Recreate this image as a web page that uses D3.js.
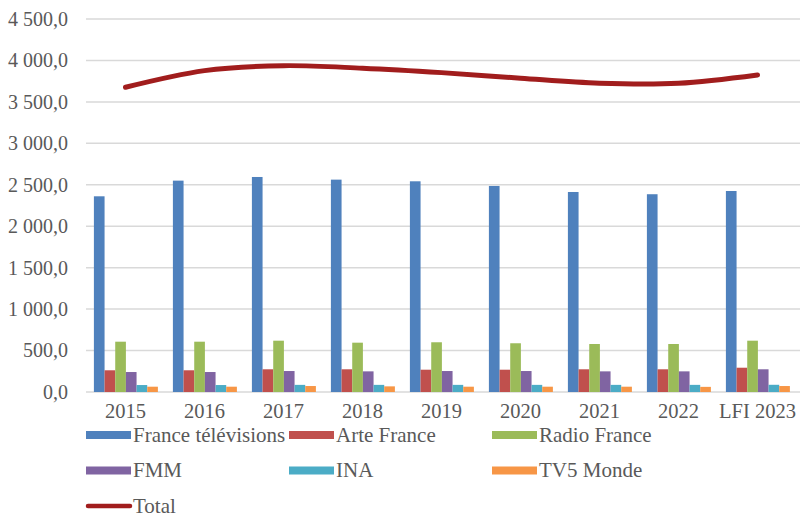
<!DOCTYPE html>
<html>
<head>
<meta charset="utf-8">
<script src="https://cdn.jsdelivr.net/npm/d3@7"></script>
<style>
  body { margin: 0; background: #fff; }
</style>
</head>
<body>
<svg id="chart"></svg>
<script>
const years = ["2015", "2016", "2017", "2018", "2019", "2020", "2021", "2022", "LFI 2023"];
const series = ["France télévisions", "Arte France", "Radio France", "FMM", "INA", "TV5 Monde"];

const franceTv    = [2361, 2550, 2594, 2562, 2542, 2486, 2413, 2386, 2425];
const arteFrance  = [262, 262, 274, 274, 269, 269, 274, 274, 293];
const radioFrance = [607, 607, 619, 595, 600, 588, 579, 579, 619];
const fmm         = [241, 241, 253, 249, 253, 253, 249, 249, 274];
const ina         = [84, 84, 86, 86, 86, 86, 86, 86, 87];
const tv5Monde    = [64, 64, 72, 68, 64, 64, 64, 62, 72];
const total       = [3676, 3877, 3937, 3906, 3853, 3785, 3725, 3725, 3825];

const yTicks = [0, 500, 1000, 1500, 2000, 2500, 3000, 3500, 4000, 4500];
const colors = ["#4F81BD", "#C0504D", "#9BBB59", "#8064A2", "#4BACC6", "#F79646"];
const totalColor = "#A11D1D";

const seriesValues = [franceTv, arteFrance, radioFrance, fmm, ina, tv5Monde];

const width = 802;
const height = 517;
const margin = { left: 86, right: 5, top: 19, bottom: 125 };
const serif = '"Liberation Serif", "Times New Roman", serif';

const svg = d3.select("#chart")
    .attr("width", width)
    .attr("height", height)
    .attr("font-family", serif);

const x0 = d3.scaleBand()
    .domain(years)
    .range([margin.left, 797]);

const x1 = d3.scaleBand()
    .domain(series)
    .range([x0.bandwidth() * 0.1, x0.bandwidth() * 0.91]);

const y = d3.scaleLinear()
    .domain([0, 4500])
    .range([392, margin.top]);

// gridlines
svg.append("g")
    .selectAll("line")
    .data(yTicks)
    .enter()
    .append("line")
    .attr("x1", margin.left)
    .attr("x2", 800)
    .attr("y1", d => y(d))
    .attr("y2", d => y(d))
    .attr("stroke", "#D9D9D9")
    .attr("stroke-width", 1.5);

// y axis labels
const fmt = d => d3.format(",.1f")(d).replace(",", " ").replace(".", ",");
const yAxis = d3.axisLeft(y)
    .tickValues(yTicks)
    .tickSize(0)
    .tickPadding(18)
    .tickFormat(fmt);

svg.append("g")
    .attr("transform", `translate(${margin.left}, 0)`)
    .call(yAxis)
    .attr("font-family", serif)
    .call(g => g.select(".domain").remove())
    .call(g => g.selectAll("text").style("font-size", "20px").style("font-family", serif).attr("fill", "#595959"));

// bars
const groups = svg.append("g")
    .selectAll("g")
    .data(years)
    .enter()
    .append("g")
    .attr("transform", d => `translate(${x0(d)}, 0)`);

groups.selectAll("rect")
    .data((d, i) => series.map((s, j) => ({ key: s, value: seriesValues[j][i], color: colors[j] })))
    .enter()
    .append("rect")
    .attr("x", d => x1(d.key))
    .attr("y", d => y(d.value))
    .attr("width", x1.bandwidth())
    .attr("height", d => y(0) - y(d.value))
    .attr("fill", d => d.color);

// total line
const line = d3.line()
    .x((d, i) => x0(years[i]) + x0.bandwidth() / 2)
    .y(d => y(d))
    .curve(d3.curveCardinal.tension(0));

svg.append("path")
    .datum(total)
    .attr("d", line)
    .attr("fill", "none")
    .attr("stroke", totalColor)
    .attr("stroke-width", 5)
    .attr("stroke-linecap", "round");

// x axis labels
const xAxis = d3.axisBottom(x0)
    .tickSize(0)
    .tickPadding(11);

svg.append("g")
    .attr("transform", `translate(0, ${y(0)})`)
    .call(xAxis)
    .attr("font-family", serif)
    .call(g => g.select(".domain").remove())
    .call(g => g.selectAll("text").style("font-size", "20.5px").style("font-family", serif).attr("fill", "#595959"));

// legend
const legendItems = series.map((s, i) => ({ name: s, color: colors[i], type: "bar" }))
    .concat([{ name: "Total", color: totalColor, type: "line" }]);

const legend = svg.append("g");
legendItems.forEach((d, i) => {
    const col = i % 3;
    const row = Math.floor(i / 3);
    const lx = 86 + col * 203;
    const ly = 435 + row * 35.5;
    const item = legend.append("g").attr("transform", `translate(${lx}, ${ly})`);
    if (d.type === "bar") {
        item.append("rect")
            .attr("x", 0)
            .attr("y", -4)
            .attr("width", 45)
            .attr("height", 8)
            .attr("fill", d.color);
    } else {
        item.append("line")
            .attr("x1", 2)
            .attr("x2", 44)
            .attr("y1", 0)
            .attr("y2", 0)
            .attr("stroke", d.color)
            .attr("stroke-width", 4.5)
            .attr("stroke-linecap", "round");
    }
    item.append("text")
        .attr("x", 47)
        .attr("y", 6.5)
        .style("font-size", "21px")
        .style("font-family", serif)
        .attr("fill", "#595959")
        .text(d.name);
});
</script>
</body>
</html>
